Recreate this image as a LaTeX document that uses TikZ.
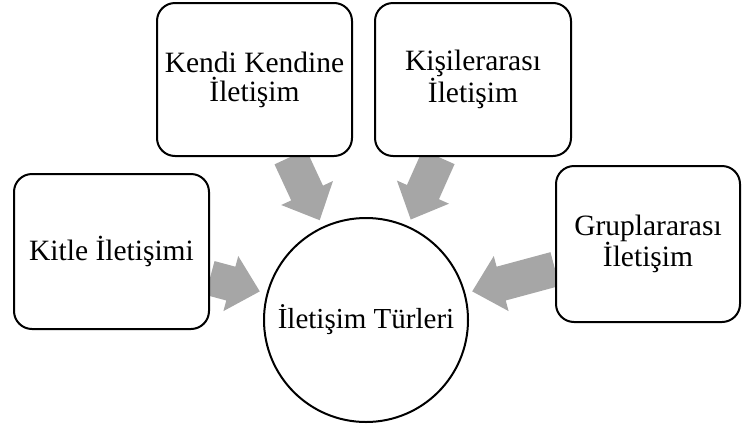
\documentclass[tikz,border=0pt]{standalone}
\usepackage{fontspec}
\setmainfont{Liberation Serif}
\usetikzlibrary{calc,backgrounds}

\definecolor{arrowgray}{RGB}{166,166,166}

% Thick block arrow from the border of box #1 towards the centre of circle #2
\newcommand\convarrow[2]{%
  \path (#1) -- (#2) coordinate[pos=0] (#1s);
  \path ($(#2.center)!110pt!(#1s)$) coordinate (#1t);
  \path ($(#1t)!30pt!(#1s)$) coordinate (#1b);
  \fill[arrowgray]
    ($(#1s)!17.5pt!90:(#1t)$) -- ($(#1b)!17.5pt!90:(#1t)$) --
    ($(#1b)!28.5pt!90:(#1t)$) -- (#1t) --
    ($(#1b)!28.5pt!-90:(#1t)$) -- ($(#1b)!17.5pt!-90:(#1t)$) --
    ($(#1s)!17.5pt!-90:(#1t)$) -- cycle;
}

\tikzset{
  typebox/.style={draw=black, fill=white, line width=2pt, rounded corners=18pt,
    align=center, inner sep=0pt,
    font=\fontsize{29.5}{29}\selectfont},
  hub/.style={draw=black, fill=white, line width=2pt, circle, inner sep=0pt,
    minimum size=204pt, align=center,
    font=\fontsize{29}{29}\selectfont}
}

\begin{document}
\begin{tikzpicture}[x=1pt,y=-1pt]
\useasboundingbox (0,0) rectangle (744,429);

\node[hub] (circ) at (366,320) {İletişim Türleri};

\node[typebox, minimum width=195pt, minimum height=155pt] (kitle) at (111.5,251.5) {Kitle İletişimi};
\node[typebox, minimum width=195pt, minimum height=153pt] (kendi) at (254.5,79.5) {Kendi Kendine\\İletişim};
\node[typebox, minimum width=196pt, minimum height=153pt] (kisi) at (473,79.5) {Kişilerarası\\İletişim};
\node[typebox, minimum width=184pt, minimum height=156pt] (grup) at (648,244) {Gruplararası\\İletişim};

\begin{pgfonlayer}{background}
  \convarrow{kitle}{circ}
  \convarrow{kendi}{circ}
  \convarrow{kisi}{circ}
  \convarrow{grup}{circ}
\end{pgfonlayer}
\end{tikzpicture}
\end{document}
